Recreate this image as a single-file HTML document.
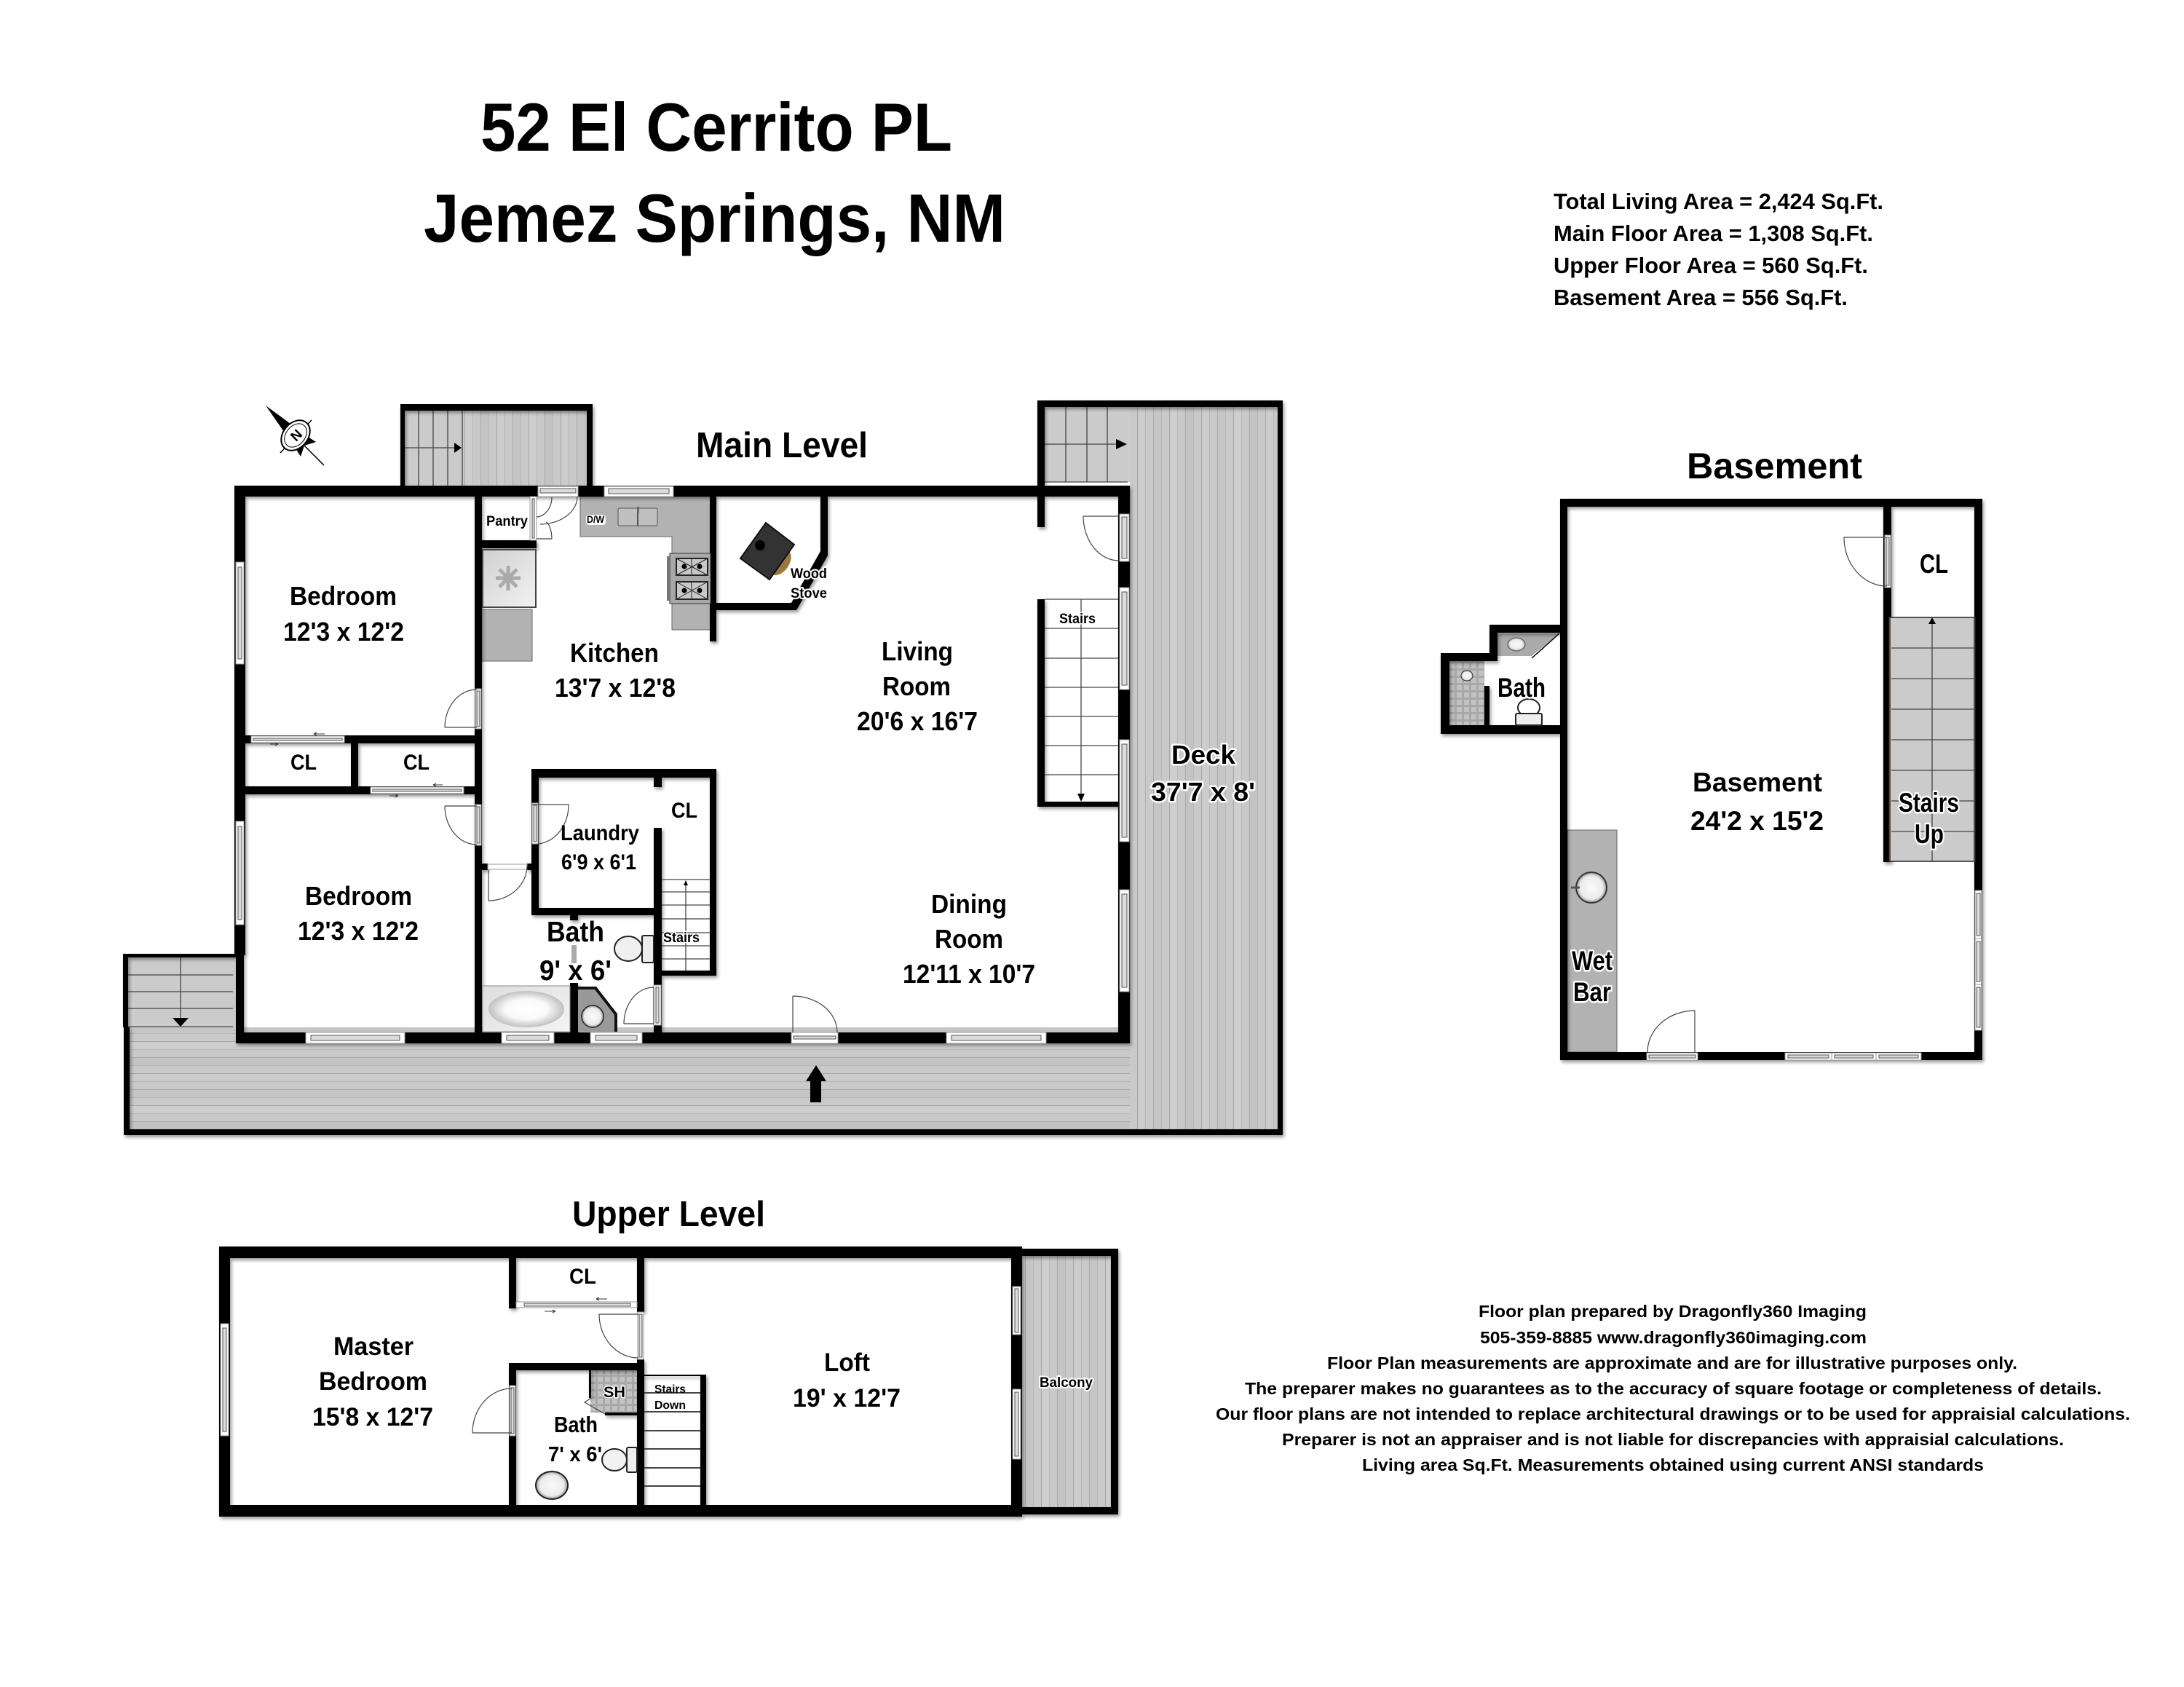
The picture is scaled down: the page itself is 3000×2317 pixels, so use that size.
<!DOCTYPE html>
<html><head><meta charset="utf-8"><title>52 El Cerrito PL Floor Plan</title>
<style>
html,body{margin:0;padding:0;background:#fff}
svg{display:block}
text{font-family:"Liberation Sans",Arial,sans-serif;font-weight:bold;fill:#000}
.h text,text.h{paint-order:stroke;stroke:#fff;stroke-width:5px;stroke-linejoin:round}
.w{fill:#000}
.win{fill:#fff;stroke:#999;stroke-width:1}
.in{fill:#dcdcdc;stroke:#555;stroke-width:1}
.d{fill:none;stroke:#444;stroke-width:1.2}
.s{stroke:#444;stroke-width:1.3;fill:none}
.c{fill:#b2b2b2;stroke:#666;stroke-width:1}
</style></head><body>
<svg xmlns="http://www.w3.org/2000/svg" width="3000" height="2317" viewBox="0 0 3000 2317">
<defs>
<filter id="sh" x="-5%" y="-5%" width="110%" height="110%"><feDropShadow dx="2" dy="3" stdDeviation="2.5" flood-color="#000" flood-opacity=".4"/></filter>
<pattern id="dv" width="88" height="10" patternUnits="userSpaceOnUse">
<rect width="88" height="10" fill="#c9c9c9"/><rect x="0" width="11" height="10" fill="#c5c5c5"/><rect x="22" width="11" height="10" fill="#cecece"/><rect x="44" width="11" height="10" fill="#c3c3c3"/><rect x="66" width="11" height="10" fill="#cccccc"/>
<rect x="0" width="1" height="10" fill="#aaa"/><rect x="11" width="1" height="10" fill="#b8b8b8"/><rect x="22" width="1" height="10" fill="#a6a6a6"/><rect x="33" width="1" height="10" fill="#b8b8b8"/><rect x="44" width="1" height="10" fill="#aaa"/><rect x="55" width="1" height="10" fill="#b8b8b8"/><rect x="66" width="1" height="10" fill="#a6a6a6"/><rect x="77" width="1" height="10" fill="#b4b4b4"/>
</pattern>
<pattern id="dh" width="10" height="88" patternUnits="userSpaceOnUse">
<rect width="10" height="88" fill="#c9c9c9"/><rect y="0" width="10" height="11" fill="#c5c5c5"/><rect y="22" width="10" height="11" fill="#cecece"/><rect y="44" width="10" height="11" fill="#c3c3c3"/><rect y="66" width="10" height="11" fill="#cccccc"/>
<rect y="0" width="10" height="1" fill="#aaa"/><rect y="11" width="10" height="1" fill="#b8b8b8"/><rect y="22" width="10" height="1" fill="#a6a6a6"/><rect y="33" width="10" height="1" fill="#b8b8b8"/><rect y="44" width="10" height="1" fill="#aaa"/><rect y="55" width="10" height="1" fill="#b8b8b8"/><rect y="66" width="10" height="1" fill="#a6a6a6"/><rect y="77" width="10" height="1" fill="#b4b4b4"/>
</pattern>
<pattern id="tile" width="10" height="10" patternUnits="userSpaceOnUse"><rect width="10" height="10" fill="#a8a8a8"/><rect x="1" y="1" width="7" height="7" fill="#c2c2c2"/></pattern>
<radialGradient id="sk"><stop offset="0" stop-color="#fafafa"/><stop offset=".75" stop-color="#ececec"/><stop offset="1" stop-color="#999"/></radialGradient>
<radialGradient id="tbi"><stop offset="0" stop-color="#fff"/><stop offset=".55" stop-color="#fafafa"/><stop offset="1" stop-color="#c0c0c0"/></radialGradient>
<linearGradient id="fr" x1="0" y1="0" x2="1" y2="1"><stop offset="0" stop-color="#d0d0d0"/><stop offset="1" stop-color="#f2f2f2"/></linearGradient>
<linearGradient id="tb" x1="0" y1="0" x2="1" y2="1"><stop offset="0" stop-color="#ddd"/><stop offset="1" stop-color="#f4f4f4"/></linearGradient>
</defs>
<rect width="3000" height="2317" fill="#fff"/>

<!-- Title -->
<text x="660" y="207" font-size="94" textLength="648" lengthAdjust="spacingAndGlyphs">52 El Cerrito PL</text>
<text x="582" y="332" font-size="94" textLength="799" lengthAdjust="spacingAndGlyphs">Jemez Springs, NM</text>
<text x="2134" y="287" font-size="31" textLength="453" lengthAdjust="spacingAndGlyphs">Total Living Area = 2,424 Sq.Ft.</text>
<text x="2134" y="331" font-size="31" textLength="439" lengthAdjust="spacingAndGlyphs">Main Floor Area = 1,308 Sq.Ft.</text>
<text x="2134" y="375" font-size="31" textLength="432" lengthAdjust="spacingAndGlyphs">Upper Floor Area = 560 Sq.Ft.</text>
<text x="2134" y="419" font-size="31" textLength="404" lengthAdjust="spacingAndGlyphs">Basement Area = 556 Sq.Ft.</text>

<!-- Main level decks and stairs -->
<rect x="178" y="1411" width="1374" height="140" fill="url(#dh)"/>
<rect x="1552" y="559" width="203" height="992" fill="url(#dv)"/>
<rect x="635" y="564" width="171" height="103" fill="url(#dv)"/>
<rect x="556" y="564" width="79" height="103" fill="#cbcbcb"/>
<rect x="1435" y="559" width="117" height="103" fill="#cbcbcb"/>
<rect x="176" y="1314" width="148" height="97" fill="#cbcbcb"/>
<g class="s">
<path d="M575 564V667M595 564V667M615 564V667M635 564V667M556 615H626"/>
<path d="M1464 559V662M1493 559V662M1521 559V662M1435 610H1535M1435 662H1549"/>
<path d="M176 1339H320M176 1362H320M176 1385H320M176 1410H320M248 1314V1400"/>
</g>
<path d="M624 608L634 615L624 622Z"/>
<path d="M1533 603L1548 610L1533 617Z"/>
<path d="M237 1398H259L248 1410Z"/>

<!-- Counters etc -->
<path class="c" d="M797 682H976V865H923V737H797Z"/>
<rect class="c" x="661" y="837" width="70" height="71"/>

<g filter="url(#sh)">
<!-- deck outer -->
<rect class="w" x="170" y="1411" width="8" height="148"/>
<rect class="w" x="170" y="1551" width="1592" height="8"/>
<rect class="w" x="1755" y="550" width="7" height="1009"/>
<rect class="w" x="1425" y="550" width="337" height="9"/>
<rect class="w" x="1425" y="550" width="10" height="174"/>
<rect class="w" x="550" y="555" width="264" height="9"/>
<rect class="w" x="550" y="555" width="6" height="112"/>
<rect class="w" x="806" y="555" width="8" height="112"/>
<rect class="w" x="169" y="1310" width="155" height="5"/>
<rect class="w" x="169" y="1310" width="7" height="101"/>
<!-- main walls -->
<rect class="w" x="322" y="667" width="1230" height="15"/>
<rect class="w" x="322" y="667" width="15" height="645"/>
<rect class="w" x="324" y="1312" width="11" height="121"/>
<rect class="w" x="324" y="1418" width="1228" height="15"/>
<rect class="w" x="1536" y="667" width="16" height="766"/>
<rect class="w" x="652" y="682" width="10" height="751"/>
<rect class="w" x="337" y="1010" width="316" height="11"/>
<rect class="w" x="337" y="1080" width="316" height="11"/>
<rect class="w" x="482" y="1021" width="10" height="60"/>
<rect class="w" x="662" y="742" width="75" height="11"/>
<rect class="w" x="975" y="682" width="9" height="199"/>
<rect class="w" x="984" y="828" width="104" height="10"/>
<rect class="w" x="1127" y="682" width="10" height="76"/>
<polygon class="w" points="1127,757 1137,757 1137,763 1094,838 1087,838 1087,828"/>
<rect class="w" x="1425" y="823" width="10" height="285"/>
<rect class="w" x="1425" y="1101" width="111" height="7"/>
<!-- laundry -->
<rect class="w" x="730" y="1056" width="254" height="12"/>
<rect class="w" x="730" y="1056" width="10" height="201"/>
<rect class="w" x="730" y="1247" width="179" height="10"/>
<rect class="w" x="975" y="1056" width="9" height="284"/>
<rect class="w" x="898" y="1137" width="11" height="296"/>
<rect class="w" x="898" y="1068" width="11" height="13"/>
<rect class="w" x="909" y="1333" width="75" height="7"/>
<rect class="w" x="662" y="1186" width="8" height="9"/>
<rect class="w" x="724" y="1186" width="8" height="9"/>
<rect class="w" x="783" y="1350" width="11" height="83"/>
<rect class="w" x="783" y="1257" width="11" height="7"/>
</g>

<!-- Main windows -->
<g>
<rect class="win" x="324" y="772" width="11" height="140"/><rect class="in" x="327" y="779" width="5" height="126"/>
<rect class="win" x="324" y="1128" width="11" height="142"/><rect class="in" x="327" y="1135" width="5" height="128"/>
<rect class="win" x="420" y="1418" width="136" height="15"/><rect class="in" x="427" y="1422" width="122" height="7"/>
<rect class="win" x="689" y="1418" width="72" height="15"/><rect class="in" x="696" y="1422" width="58" height="7"/>
<rect class="win" x="811" y="1418" width="71" height="15"/><rect class="in" x="818" y="1422" width="57" height="7"/>
<rect class="win" x="1087" y="1418" width="64" height="15"/><rect class="in" x="1090" y="1423" width="58" height="4"/>
<rect class="win" x="1300" y="1418" width="137" height="15"/><rect class="in" x="1307" y="1422" width="123" height="7"/>
<rect class="win" x="830" y="668" width="95" height="14"/><rect class="in" x="836" y="671" width="83" height="7"/>
<rect class="win" x="739" y="668" width="55" height="14"/><rect class="in" x="742" y="671" width="49" height="6"/>
<rect class="win" x="1538" y="706" width="13" height="65"/><rect class="in" x="1541" y="710" width="7" height="57"/>
<rect class="win" x="1538" y="807" width="13" height="140"/><rect class="in" x="1541" y="813" width="7" height="128"/>
<rect class="win" x="1538" y="1016" width="13" height="140"/><rect class="in" x="1541" y="1022" width="7" height="128"/>
<rect class="win" x="1538" y="1222" width="13" height="140"/><rect class="in" x="1541" y="1228" width="7" height="128"/>
<rect class="win" x="653" y="946" width="8" height="55"/><rect class="in" x="655" y="949" width="4" height="49"/>
<rect class="win" x="653" y="1105" width="8" height="56"/><rect class="in" x="655" y="1108" width="4" height="50"/>
<rect class="win" x="345" y="1011" width="128" height="9"/><rect class="in" x="348" y="1014" width="122" height="3"/>
<rect class="win" x="509" y="1081" width="128" height="9"/><rect class="in" x="512" y="1084" width="122" height="3"/>
<rect class="win" x="731" y="1103" width="8" height="56"/><rect class="in" x="733" y="1106" width="4" height="50"/>
<rect class="win" x="670" y="1187" width="54" height="7"/>
<rect class="win" x="898" y="1353" width="10" height="55"/><rect class="in" x="901" y="1356" width="4" height="49"/>
<rect class="win" x="728" y="682" width="9" height="60"/><rect class="in" x="731" y="685" width="3" height="54"/>
</g>
<path d="M431 1008h15M431 1008l4 -2M431 1008l4 2M371 1022h11M382 1022l-4 -2M382 1022l-4 2M595 1078h13M595 1078l4 -2M595 1078l4 2M535 1093h12M547 1093l-4 -2M547 1093l-4 2" stroke="#333" fill="none"/>
<!-- Main doors -->
<path class="d" d="M611 999H655M611 999A44 52 0 0 1 655 947"/>
<path class="d" d="M611 1107H655M611 1107A44 53 0 0 0 655 1160"/>
<path class="d" d="M731 1105H781M781 1105A46 54 0 0 1 740 1159"/>
<path class="d" d="M671 1195V1237M671 1237A53 48 0 0 0 724 1189"/>
<path class="d" d="M898 1356V1406H857M857 1406A41 50 0 0 1 898 1356"/>
<path class="d" d="M1089 1418V1368M1089 1368A61 50 0 0 1 1150 1418"/>
<path class="d" d="M1537 709H1488M1488 709A49 61 0 0 0 1537 770"/>
<path class="d" d="M793 682A51 38 0 0 1 742 720"/>
<path class="d" d="M737 710A22 27 0 0 0 758 683M737 740H758M758 740A10 24 0 0 0 750 717"/>
<!-- arrow -->
<path d="M1121 1463L1135 1485H1128V1514H1113V1485H1107Z"/>
<!-- interior stairs -->
<g class="s" stroke="#666">
<path d="M1435 823H1536M1435 863H1536M1435 904H1536M1435 944H1536M1435 984H1536M1435 1024H1536M1435 1064H1536M1485 823V1096"/>
<path d="M909 1208H975M909 1225H975M909 1243H975M909 1262H975M909 1281H975M909 1299H975M909 1317H975M942 1210V1333"/>
</g>
<path d="M1480 1090H1490L1485 1101Z"/><path d="M939 1216L942 1209L945 1216Z"/>
<!-- kitchen appliances -->
<rect x="663" y="755" width="73" height="79" fill="url(#fr)" stroke="#444" stroke-width="2"/>
<path d="M698 777V811M681 794H715M686 782L710 806M710 782L686 806" stroke="#aaa" stroke-width="5"/>
<rect x="805" y="707" width="27" height="14" rx="4" fill="#fff"/>
<rect x="849" y="698" width="54" height="24" rx="2" fill="#c0c0c0" stroke="#555"/>
<path d="M876 698V722" stroke="#555" stroke-width="2"/>
<path d="M875 696h3v8h-3z" fill="#666"/>
<rect x="920" y="760" width="56" height="69" fill="#a8a8a8" stroke="#333"/>
<rect x="916" y="764" width="4" height="61" fill="#777"/>
<g stroke="#222" fill="#c8c8c8">
<rect x="929" y="767" width="43" height="23" stroke-width="2"/><path d="M929 767L972 790M972 767L929 790M950 767V790" fill="none"/>
<rect x="929" y="799" width="43" height="24" stroke-width="2"/><path d="M929 799L972 823M972 799L929 823M950 799V823" fill="none"/>
</g>
<circle cx="940" cy="778" r="3.5"/><circle cx="961" cy="778" r="3.5"/><circle cx="940" cy="811" r="3.5"/><circle cx="961" cy="811" r="3.5"/>
<!-- wood stove -->
<ellipse cx="1071" cy="772" rx="20" ry="13" transform="rotate(-55 1071 772)" fill="#9a7a3a"/>
<polygon points="1052,718 1091,748 1057,796 1017,767" fill="#333" stroke="#111" stroke-width="2"/>
<circle cx="1044" cy="749" r="7" fill="#000"/>
<!-- tub, sink, toilet -->
<rect x="663" y="1354" width="120" height="63" fill="url(#tb)" stroke="#888"/>
<ellipse cx="723" cy="1386" rx="52" ry="25" fill="url(#tbi)"/>
<polygon points="794,1356 818,1356 848,1393 848,1417 794,1417" fill="#999"/>
<path d="M794 1357H818L846 1393V1417" fill="none" stroke="#111" stroke-width="4"/>
<circle cx="814" cy="1396" r="15" fill="url(#sk)" stroke="#222" stroke-width="1.5"/>
<rect x="785" y="1298" width="7" height="25" fill="#aaa"/>
<rect x="882" y="1285" width="16" height="37" rx="2" fill="#ececec" stroke="#222" stroke-width="2"/>
<ellipse cx="863" cy="1303" rx="19" ry="17" fill="#f0f0f0" stroke="#222" stroke-width="2"/>
<!-- compass -->
<g>
<path d="M365 557L399 582L390 593Z"/>
<path d="M423 600L434 607L418 612Z"/>
<path d="M406 616L418 612L413 627Z"/>
<path d="M418 612L445 639M428 577L385 622" stroke="#000" stroke-width="1.5" fill="none"/>
<ellipse cx="406" cy="598" rx="17" ry="23" transform="rotate(40 406 598)" fill="#fff" stroke="#000" stroke-width="2"/>
<ellipse cx="406" cy="598" rx="13" ry="18" transform="rotate(40 406 598)" fill="#fff" stroke="#000" stroke-width="1"/>
<text x="400" y="605" font-size="19" transform="rotate(-45 406 598)">N</text>
</g>
<!-- Main labels -->
<text x="956" y="628" font-size="49" textLength="236" lengthAdjust="spacingAndGlyphs">Main Level</text>
<g font-size="36">
<text x="398" y="831" textLength="147" lengthAdjust="spacingAndGlyphs">Bedroom</text>
<text x="389" y="880" textLength="166" lengthAdjust="spacingAndGlyphs">12'3 x 12'2</text>
<text x="419" y="1243" textLength="147" lengthAdjust="spacingAndGlyphs">Bedroom</text>
<text x="409" y="1291" textLength="166" lengthAdjust="spacingAndGlyphs">12'3 x 12'2</text>
<text x="783" y="909" textLength="122" lengthAdjust="spacingAndGlyphs">Kitchen</text>
<text x="762" y="957" textLength="166" lengthAdjust="spacingAndGlyphs">13'7 x 12'8</text>
<text x="1211" y="907" textLength="98" lengthAdjust="spacingAndGlyphs">Living</text>
<text x="1212" y="955" textLength="94" lengthAdjust="spacingAndGlyphs">Room</text>
<text x="1177" y="1003" textLength="166" lengthAdjust="spacingAndGlyphs">20'6 x 16'7</text>
<text x="1279" y="1254" textLength="104" lengthAdjust="spacingAndGlyphs">Dining</text>
<text x="1284" y="1302" textLength="94" lengthAdjust="spacingAndGlyphs">Room</text>
<text x="1240" y="1350" textLength="182" lengthAdjust="spacingAndGlyphs">12'11 x 10'7</text>
<text class="h" x="1609" y="1049" textLength="88" lengthAdjust="spacingAndGlyphs">Deck</text>
<text class="h" x="1581" y="1100" textLength="143" lengthAdjust="spacingAndGlyphs">37'7 x 8'</text>
</g>
<g font-size="30">
<text x="399" y="1057" textLength="36" lengthAdjust="spacingAndGlyphs">CL</text>
<text x="554" y="1057" textLength="36" lengthAdjust="spacingAndGlyphs">CL</text>
<text x="922" y="1123" textLength="36" lengthAdjust="spacingAndGlyphs">CL</text>
<text x="770" y="1154" textLength="108" lengthAdjust="spacingAndGlyphs">Laundry</text>
<text x="771" y="1194" textLength="103" lengthAdjust="spacingAndGlyphs">6'9 x 6'1</text>
</g>
<text x="751" y="1293" font-size="39" textLength="79" lengthAdjust="spacingAndGlyphs">Bath</text>
<text x="741" y="1346" font-size="39" textLength="99" lengthAdjust="spacingAndGlyphs">9' x 6'</text>
<g font-size="19">
<text x="668" y="722" textLength="57" lengthAdjust="spacingAndGlyphs">Pantry</text>
<text x="911" y="1294" textLength="50" lengthAdjust="spacingAndGlyphs" class="h" style="stroke-width:3px">Stairs</text>
<text x="1455" y="856" textLength="50" lengthAdjust="spacingAndGlyphs" class="h" style="stroke-width:3px">Stairs</text>
<text x="1086" y="794" textLength="50" lengthAdjust="spacingAndGlyphs" class="h" style="stroke-width:4px">Wood</text>
<text x="1086" y="821" textLength="50" lengthAdjust="spacingAndGlyphs" class="h" style="stroke-width:4px">Stove</text>
</g>
<text x="806" y="718" font-size="14" textLength="24" lengthAdjust="spacingAndGlyphs">D/W</text>

<!-- Basement -->
<text x="2317" y="657" font-size="50" textLength="241" lengthAdjust="spacingAndGlyphs">Basement</text>
<rect class="c" x="2153" y="1140" width="68" height="305"/>
<polygon points="2057,870 2142,870 2104,901 2057,901" fill="#aaa"/>
<rect x="1991" y="908" width="48" height="88" fill="url(#tile)"/>
<g filter="url(#sh)">
<rect class="w" x="2143" y="685" width="579" height="11"/>
<rect class="w" x="2143" y="1445" width="580" height="11"/>
<rect class="w" x="2143" y="685" width="10" height="771"/>
<rect class="w" x="2712" y="685" width="11" height="771"/>
<rect class="w" x="2587" y="696" width="11" height="488"/>
<rect class="w" x="2046" y="858" width="97" height="11"/>
<rect class="w" x="2046" y="858" width="11" height="50"/>
<rect class="w" x="1979" y="897" width="73" height="11"/>
<rect class="w" x="1979" y="897" width="12" height="111"/>
<rect class="w" x="1979" y="996" width="164" height="12"/>
<rect class="w" x="2039" y="942" width="7" height="54"/>
</g>
<rect x="2595" y="848" width="118" height="335" fill="#cbcbcb" stroke="#222" stroke-width="1.5"/>
<path class="s" stroke="#222" d="M2598 890H2711M2598 932H2711M2598 974H2711M2598 1016H2711M2598 1058H2711M2598 1100H2711M2598 1142H2711M2654 856V1183"/>
<path d="M2596 848V1183M2712 848V1183" stroke="#5a4a3a" stroke-width="2"/>
<path d="M2649 857L2654 848L2659 857Z"/>
<path d="M2142 870L2104 904" stroke="#000" stroke-width="1.5"/>
<rect class="win" x="2589" y="735" width="8" height="72"/><rect class="in" x="2591" y="738" width="4" height="66"/>
<rect class="win" x="2262" y="1446" width="70" height="10"/><rect class="in" x="2265" y="1449" width="64" height="4"/>
<rect class="win" x="2452" y="1446" width="64" height="10"/><rect class="in" x="2456" y="1449" width="56" height="4"/>
<rect class="win" x="2516" y="1446" width="61" height="10"/><rect class="in" x="2520" y="1449" width="53" height="4"/>
<rect class="win" x="2577" y="1446" width="62" height="10"/><rect class="in" x="2581" y="1449" width="54" height="4"/>
<rect class="win" x="2713" y="1223" width="9" height="66"/><rect class="in" x="2715" y="1227" width="5" height="58"/>
<rect class="win" x="2713" y="1289" width="9" height="63"/><rect class="in" x="2715" y="1293" width="5" height="55"/>
<rect class="win" x="2713" y="1352" width="9" height="63"/><rect class="in" x="2715" y="1356" width="5" height="55"/>
<path class="d" d="M2592 738H2533M2533 738A59 67 0 0 0 2592 805"/>
<path class="d" d="M2328 1445V1388M2328 1388A65 57 0 0 0 2263 1445"/>
<circle cx="2186" cy="1219" r="21" fill="url(#sk)" stroke="#333" stroke-width="2"/>
<path d="M2158 1219H2170" stroke="#555" stroke-width="3"/>
<ellipse cx="2083" cy="885" rx="12" ry="9" fill="url(#sk)" stroke="#555"/>
<ellipse cx="2015" cy="928" rx="8" ry="7" fill="url(#sk)" stroke="#333"/>
<ellipse cx="2100" cy="972" rx="15" ry="12" fill="#fff" stroke="#222" stroke-width="2"/>
<rect x="2082" y="980" width="36" height="16" rx="2" fill="#eee" stroke="#222" stroke-width="2"/>
<g font-size="37">
<text x="2325" y="1087" textLength="178" lengthAdjust="spacingAndGlyphs">Basement</text>
<text x="2322" y="1140" textLength="183" lengthAdjust="spacingAndGlyphs">24'2 x 15'2</text>
<text x="2637" y="787" textLength="39" lengthAdjust="spacingAndGlyphs">CL</text>
<text class="h" x="2608" y="1115" textLength="83" lengthAdjust="spacingAndGlyphs">Stairs</text>
<text class="h" x="2630" y="1158" textLength="40" lengthAdjust="spacingAndGlyphs">Up</text>
<text class="h" x="2159" y="1332" textLength="56" lengthAdjust="spacingAndGlyphs">Wet</text>
<text class="h" x="2161" y="1375" textLength="52" lengthAdjust="spacingAndGlyphs">Bar</text>
<text class="h" x="2057" y="957" textLength="66" lengthAdjust="spacingAndGlyphs">Bath</text>
</g>

<!-- Upper Level -->
<text x="786" y="1684" font-size="49" textLength="265" lengthAdjust="spacingAndGlyphs">Upper Level</text>
<rect x="1404" y="1725" width="122" height="345" fill="url(#dv)"/>
<rect x="811" y="1882" width="64" height="58" fill="url(#tile)"/>
<g filter="url(#sh)">
<rect class="w" x="301" y="1712" width="1094" height="16"/>
<rect class="w" x="301" y="2067" width="1094" height="16"/>
<rect class="w" x="301" y="1712" width="15" height="371"/>
<rect class="w" x="1389" y="1712" width="15" height="371"/>
<rect class="w" x="1395" y="1715" width="141" height="10"/>
<rect class="w" x="1395" y="2070" width="141" height="10"/>
<rect class="w" x="1526" y="1715" width="10" height="365"/>
<rect class="w" x="699" y="1728" width="10" height="69"/>
<rect class="w" x="875" y="1728" width="10" height="74"/>
<rect class="w" x="875" y="1867" width="10" height="200"/>
<rect class="w" x="699" y="1872" width="186" height="10"/>
<rect class="w" x="699" y="1872" width="10" height="195"/>
<rect class="w" x="831" y="1940" width="44" height="4"/>
<rect class="w" x="809" y="1882" width="3" height="38"/>
<rect class="w" x="885" y="1888" width="85" height="2"/>
<rect class="w" x="962" y="1888" width="8" height="179"/>
</g>
<rect class="win" x="303" y="1818" width="11" height="154"/><rect class="in" x="306" y="1824" width="5" height="142"/>
<rect class="win" x="1391" y="1767" width="11" height="66"/><rect class="in" x="1394" y="1770" width="5" height="60"/>
<rect class="win" x="1391" y="1908" width="11" height="96"/><rect class="in" x="1394" y="1912" width="5" height="88"/>
<rect class="win" x="876" y="1802" width="8" height="65"/><rect class="in" x="878" y="1805" width="4" height="59"/>
<rect class="win" x="700" y="1903" width="8" height="69"/><rect class="in" x="702" y="1906" width="4" height="63"/>
<rect class="win" x="709" y="1788" width="166" height="8"/><rect class="in" x="720" y="1790" width="146" height="4"/>
<path d="M819 1784h15M819 1784l4 -2M819 1784l4 2M748 1801h15M763 1801l-4 -2M763 1801l-4 2" stroke="#333" fill="none"/>
<path class="d" d="M877 1805H823M823 1805A54 60 0 0 0 877 1865"/>
<path class="d" d="M703 1907A54 61 0 0 0 649 1968M649 1968H703"/>
<path class="d" d="M812 1920L803 1926L831 1942"/>
<path class="s" stroke="#555" d="M885 1913H962M885 1939H962M885 1965H962M885 1990H962M885 2016H962M885 2041H962" style="stroke-width:2"/>
<rect x="861" y="1988" width="14" height="34" rx="2" fill="#eee" stroke="#222" stroke-width="2"/>
<ellipse cx="844" cy="2005" rx="17" ry="15" fill="#f2f2f2" stroke="#222" stroke-width="2"/>
<ellipse cx="758" cy="2040" rx="22" ry="19" fill="url(#sk)" stroke="#222" stroke-width="2"/>
<g font-size="35">
<text x="458" y="1861" textLength="110" lengthAdjust="spacingAndGlyphs">Master</text>
<text x="438" y="1909" textLength="149" lengthAdjust="spacingAndGlyphs">Bedroom</text>
<text x="429" y="1958" textLength="166" lengthAdjust="spacingAndGlyphs">15'8 x 12'7</text>
<text x="1132" y="1883" textLength="63" lengthAdjust="spacingAndGlyphs">Loft</text>
<text x="1089" y="1932" textLength="148" lengthAdjust="spacingAndGlyphs">19' x 12'7</text>
</g>
<text x="782" y="1763" font-size="30" textLength="37" lengthAdjust="spacingAndGlyphs">CL</text>
<text x="761" y="1967" font-size="31" textLength="60" lengthAdjust="spacingAndGlyphs">Bath</text>
<text x="753" y="2007" font-size="29" textLength="74" lengthAdjust="spacingAndGlyphs">7' x 6'</text>
<text class="h" x="829" y="1919" font-size="21" textLength="30" lengthAdjust="spacingAndGlyphs" style="stroke-width:3px">SH</text>
<text x="899" y="1913" font-size="16" textLength="43" lengthAdjust="spacingAndGlyphs">Stairs</text>
<text x="899" y="1935" font-size="16" textLength="43" lengthAdjust="spacingAndGlyphs">Down</text>
<text class="h" x="1428" y="1905" font-size="19" textLength="73" lengthAdjust="spacingAndGlyphs" style="stroke-width:4px">Balcony</text>

<!-- Notes -->
<g font-size="23">
<text x="2031" y="1809" textLength="533" lengthAdjust="spacingAndGlyphs">Floor plan prepared by Dragonfly360 Imaging</text>
<text x="2033" y="1845" textLength="531" lengthAdjust="spacingAndGlyphs">505-359-8885 www.dragonfly360imaging.com</text>
<text x="1823" y="1880" textLength="948" lengthAdjust="spacingAndGlyphs">Floor Plan measurements are approximate and are for illustrative purposes only.</text>
<text x="1710" y="1915" textLength="1177" lengthAdjust="spacingAndGlyphs">The preparer makes no guarantees as to the accuracy of square footage or completeness of details.</text>
<text x="1670" y="1950" textLength="1256" lengthAdjust="spacingAndGlyphs">Our floor plans are not intended to replace architectural drawings or to be used for appraisial calculations.</text>
<text x="1761" y="1985" textLength="1074" lengthAdjust="spacingAndGlyphs">Preparer is not an appraiser and is not liable for discrepancies with appraisial calculations.</text>
<text x="1871" y="2020" textLength="854" lengthAdjust="spacingAndGlyphs">Living area Sq.Ft. Measurements obtained using current ANSI standards</text>
</g>
</svg>
</body></html>
